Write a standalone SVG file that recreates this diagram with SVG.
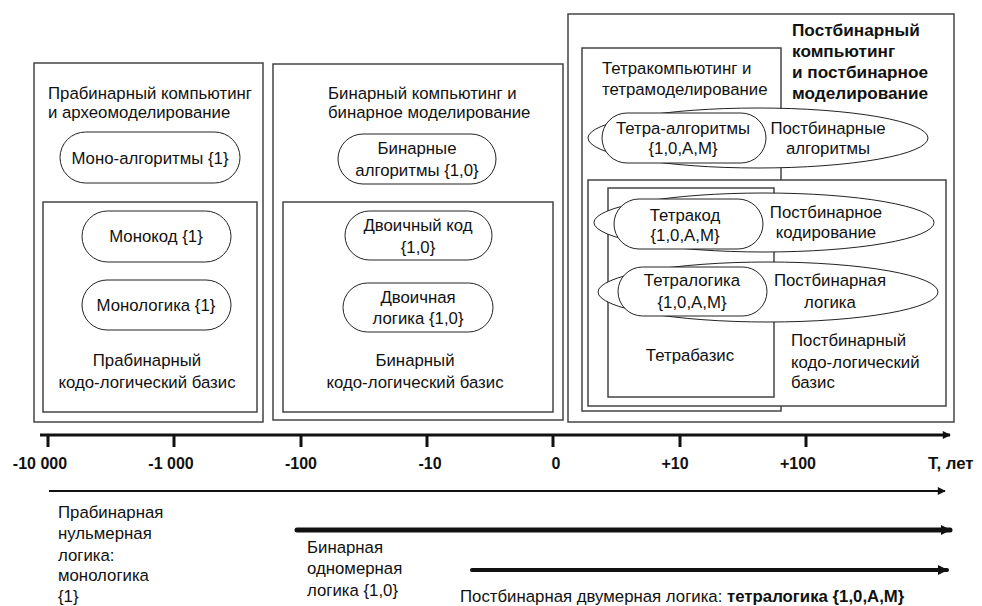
<svg xmlns="http://www.w3.org/2000/svg" width="982" height="606" viewBox="0 0 982 606">
<defs>
<style>
text{font-family:"Liberation Sans",Arial,sans-serif;font-size:16.8px;fill:#111}
.b{font-weight:bold}
.t{font-size:17.2px}
.ax16{font-size:16px}
.m{text-anchor:middle}
.box{fill:#fff;stroke:#444;stroke-width:1.5}
.pill{fill:#fff;stroke:#222;stroke-width:1}
.ax{stroke:#111;fill:none}
</style>
<marker id="ah" viewBox="0 0 10 10" refX="9" refY="5" markerWidth="10" markerHeight="8" markerUnits="userSpaceOnUse" orient="auto"><path d="M0,0L10,5L0,10z" fill="#111"/></marker>
<marker id="ah2" viewBox="0 0 10 10" refX="9" refY="5" markerWidth="12" markerHeight="10" markerUnits="userSpaceOnUse" orient="auto"><path d="M0,0L10,5L0,10z" fill="#111"/></marker>
</defs>

<g id="prebinary">
<rect class="box" x="34" y="63" width="229" height="359"/>
<text x="48" y="99">Прабинарный компьютинг</text>
<text x="48" y="118">и археомоделирование</text>
<g id="mono-alg"><rect class="pill" x="60" y="132" width="180" height="51" rx="25.5"/><text class="m" x="150" y="164">Моно-алгоритмы {1}</text></g>
<g id="prebinary-basis">
<rect class="box" x="43" y="202" width="214" height="210"/>
<g id="monocode"><rect class="pill" x="82" y="211" width="149" height="51" rx="25.5"/><text class="m" x="156" y="242">Монокод {1}</text></g>
<g id="monologic"><rect class="pill" x="82" y="280" width="149" height="50" rx="25"/><text class="m" x="156" y="311">Монологика {1}</text></g>
<text class="m" x="147" y="366">Прабинарный</text>
<text class="m" x="147" y="388">кодо-логический базис</text>
</g>
</g>

<g id="binary">
<rect class="box" x="273" y="64" width="290" height="356"/>
<text x="328" y="99">Бинарный компьютинг и</text>
<text x="328" y="118">бинарное моделирование</text>
<g id="bin-alg"><rect class="pill" x="338" y="134" width="158" height="50" rx="25"/><text class="m" x="417" y="154">Бинарные</text><text class="m" x="417" y="176">алгоритмы {1,0}</text></g>
<g id="binary-basis">
<rect class="box" x="283" y="202" width="270" height="210"/>
<g id="bincode"><rect class="pill" x="345" y="211" width="147" height="49" rx="24.5"/><text class="m" x="418" y="231">Двоичный код</text><text class="m" x="418" y="253">{1,0}</text></g>
<g id="binlogic"><rect class="pill" x="343" y="283" width="150" height="49" rx="24.5"/><text class="m" x="418" y="303">Двоичная</text><text class="m" x="418" y="324">логика {1,0}</text></g>
<text class="m" x="415" y="366">Бинарный</text>
<text class="m" x="415" y="388">кодо-логический базис</text>
</g>
</g>

<g id="postbinary">
<rect class="box" x="568" y="14" width="386" height="408"/>
<text class="b t" x="792" y="36">Постбинарный</text>
<text class="b t" x="792" y="57">компьютинг</text>
<text class="b t" x="792" y="78">и постбинарное</text>
<text class="b t" x="792" y="99">моделирование</text>
<g id="tetra">
<rect class="box" x="582" y="48" width="199" height="363"/>
<text x="602" y="74">Тетракомпьютинг и</text>
<text x="602" y="95">тетрамоделирование</text>
</g>
<g id="postbin-alg">
<ellipse class="pill" cx="758" cy="138" rx="170" ry="30"/>
<rect class="pill" x="602" y="113" width="164" height="50" rx="25"/>
<text class="m" x="683" y="134">Тетра-алгоритмы</text><text class="m" x="683" y="154">{1,0,A,M}</text>
<text class="m" x="828" y="134">Постбинарные</text><text class="m" x="828" y="154">алгоритмы</text>
</g>
<g id="postbinary-basis">
<rect class="box" x="588" y="180" width="358" height="226"/>
<rect class="box" x="608" y="188" width="166" height="209"/>
<text class="m" x="690" y="361">Тетрабазис</text>
<text x="791" y="346">Постбинарный</text>
<text x="791" y="368">кодо-логический</text>
<text x="791" y="388">базис</text>
</g>
<g id="postbin-code">
<ellipse class="pill" cx="764" cy="222.5" rx="170" ry="29.5"/>
<rect class="pill" x="614" y="199" width="149" height="50" rx="25"/>
<text class="m" x="685" y="221">Тетракод</text><text class="m" x="685" y="241">{1,0,A,M}</text>
<text class="m" x="826" y="218">Постбинарное</text><text class="m" x="826" y="238">кодирование</text>
</g>
<g id="postbin-logic">
<ellipse class="pill" cx="768" cy="292" rx="170" ry="30"/>
<rect class="pill" x="618" y="267" width="149" height="49" rx="24.5"/>
<text class="m" x="692" y="286">Тетралогика</text><text class="m" x="692" y="308">{1,0,A,M}</text>
<text class="m" x="830" y="286">Постбинарная</text><text class="m" x="830" y="308">логика</text>
</g>
</g>

<g id="connectors">
<line class="ax" x1="40" y1="435" x2="950" y2="435" stroke-width="3" marker-end="url(#ah)"/>
<g stroke="#111" stroke-width="3">
<line x1="48" y1="435" x2="48" y2="447"/>
<line x1="174" y1="435" x2="174" y2="447"/>
<line x1="301" y1="435" x2="301" y2="447"/>
<line x1="427" y1="435" x2="427" y2="447"/>
<line x1="553" y1="435" x2="553" y2="447"/>
<line x1="680" y1="435" x2="680" y2="447"/>
<line x1="806" y1="435" x2="806" y2="447"/>
</g>
<line class="ax" x1="49" y1="491" x2="945" y2="491" stroke-width="2" marker-end="url(#ah)"/>
<line class="ax" x1="297" y1="530" x2="950" y2="530" stroke-width="5" stroke-linecap="round" marker-end="url(#ah2)"/>
<line class="ax" x1="472" y1="570" x2="947" y2="570" stroke-width="4" stroke-linecap="round" marker-end="url(#ah2)"/>
</g>

<g id="axis-labels">
<text class="b m ax16" x="40" y="469">-10 000</text>
<text class="b m ax16" x="171" y="469">-1 000</text>
<text class="b m ax16" x="301" y="469">-100</text>
<text class="b m ax16" x="430" y="469">-10</text>
<text class="b m ax16" x="556" y="469">0</text>
<text class="b m ax16" x="675" y="469">+10</text>
<text class="b m ax16" x="798" y="469">+100</text>
<text class="b" x="928" y="469">T, лет</text>
</g>

<g id="bottom-labels">
<text x="58" y="518">Прабинарная</text>
<text x="58" y="539">нульмерная</text>
<text x="58" y="561">логика:</text>
<text x="58" y="581">монологика</text>
<text x="58" y="602">{1}</text>
<text x="307" y="553">Бинарная</text>
<text x="307" y="574">одномерная</text>
<text x="307" y="596">логика {1,0}</text>
<text x="460" y="602">Постбинарная двумерная логика: <tspan class="b">тетралогика {1,0,A,M}</tspan></text>
</g>
</svg>
